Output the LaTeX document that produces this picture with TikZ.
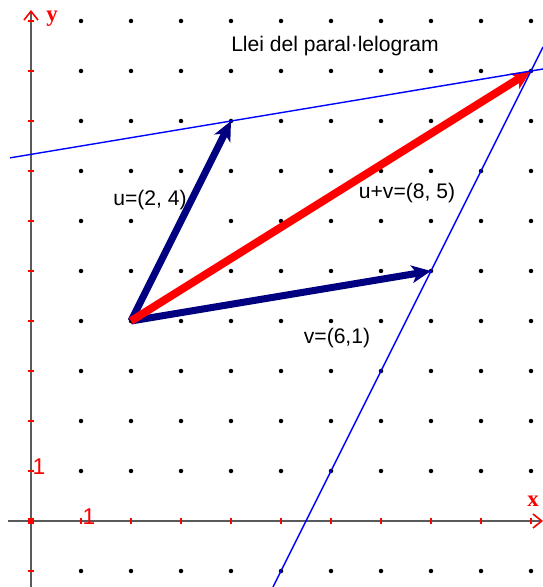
\documentclass[tikz,border=0pt]{standalone}
\usepackage{fontspec}
\setmainfont{Liberation Sans}
\newfontfamily\axisfont{Liberation Serif}
\usetikzlibrary{arrows.meta}
\definecolor{vecblue}{RGB}{0,0,128}
\definecolor{axisgray}{RGB}{90,90,90}
\tikzset{
  vector/.style={line width=4pt, -{Stealth[length=11pt, width=10pt, inset=3pt]}},
  guide/.style={blue, line width=0.8pt},
  tick/.style={red, line width=0.6pt},
  axis/.style={axisgray, line width=0.9pt, -{Straight Barb[color=red, length=5pt, width=8pt]}},
  label/.style={font=\fontsize{12}{14}\selectfont, inner sep=1pt}
}
\begin{document}
\begin{tikzpicture}[x=1cm, y=1cm]
        \useasboundingbox (-0.62,-1.32) rectangle (10.24,10.42);
        \foreach \x in {1,...,10} {
            \foreach \y in {-1,1,2,3,4,5,6,7,8,9,10} {
                \fill (\x,\y) circle (0.045);
            }
        }
        \coordinate (xstart) at (-0.46,0);
        \coordinate (xend) at (10.24,0);
        \coordinate (ystart) at (0,-1.32);
        \coordinate (yend) at (0,10.22);
        \draw[axis] (xstart) -- (xend);
        \draw[axis] (ystart) -- (yend);
        \foreach \x in {1,...,10} \draw[tick] (\x,-0.06) -- (\x,0.06);
        \foreach \y in {-1,1,2,3,4,5,6,7,8,9,10} \draw[tick] (-0.06,\y) -- (0.06,\y);
        \fill[red] (-0.06,-0.06) rectangle (0.06,0.06);
        \node[red, font=\axisfont\bfseries\fontsize{13}{15}\selectfont] (ylabel) at (0.42,10.04) {y};
        \node[red, font=\axisfont\bfseries\fontsize{13}{15}\selectfont] (xlabel) at (10.04,0.4) {x};
        \node[red, font=\fontsize{13}{15}\selectfont, inner sep=0pt] (onex) at (1.16,0.08) {1};
        \node[red, font=\fontsize{13}{15}\selectfont, inner sep=0pt] (oney) at (0.16,1.08) {1};
        \coordinate (A) at (2,4);
        \coordinate (U) at (4,8);
        \coordinate (V) at (8,5);
        \coordinate (S) at (10,9);
        \draw[vector, vecblue] (A) -- (U);
        \draw[vector, vecblue] (A) -- (V);
        \draw[vector, red, line width=4.5pt] (A) -- (S);
        \coordinate (lineoneA) at (-0.42,7.263);
        \coordinate (lineoneB) at (10.24,9.04);
        \coordinate (linetwoA) at (4.84,-1.32);
        \coordinate (linetwoB) at (10.24,9.48);
        \draw[guide] (lineoneA) -- (lineoneB);
        \draw[guide] (linetwoA) -- (linetwoB);
        \node[label] (title) at (6.08,9.5) {Llei del paral·lelogram};
        \node[label] (ulabel) at (2.38,6.42) {u=(2, 4)};
        \node[label] (sumlabel) at (7.52,6.56) {u+v=(8, 5)};
        \node[label] (vlabel) at (6.12,3.66) {v=(6,1)};
\end{tikzpicture}
\end{document}
